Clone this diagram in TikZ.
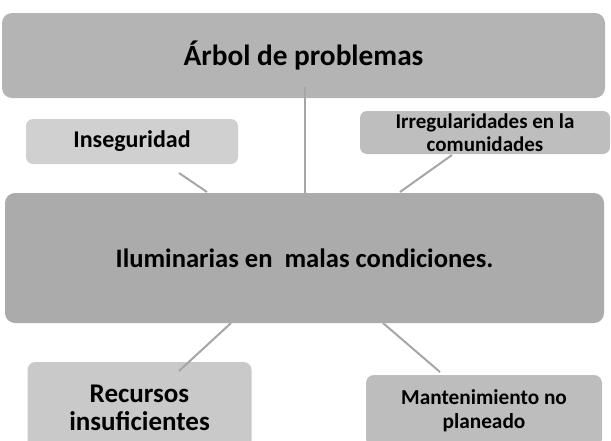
\documentclass[tikz,border=0pt]{standalone}
\usepackage{fontspec}
\setmainfont{Carlito}
\begin{document}
\begin{tikzpicture}[x=1pt,y=-1pt,
  box/.style={draw=none,rounded corners=10pt,inner sep=0pt,align=center,font=\bfseries},
  link/.style={draw=linkgray,line width=2pt}]
\definecolor{topgray}{HTML}{B4B4B4}
\definecolor{maingray}{HTML}{ABABAB}
\definecolor{lightgray}{HTML}{D0D0D0}
\definecolor{midgray}{HTML}{BEBEBE}
\definecolor{recgray}{HTML}{C9C9C9}
\definecolor{mangray}{HTML}{BDBDBD}
\definecolor{linkgray}{HTML}{A6A6A6}
\useasboundingbox (0,0) rectangle (611,440);
\clip (0,0) rectangle (611,440);
% boxes
\node[box,fill=topgray,minimum width=603pt,minimum height=85pt,font=\bfseries\fontsize{29.3}{34}\selectfont] (top) at (303.5,55.5) {Árbol de problemas};
\node[box,fill=maingray,minimum width=599pt,minimum height=130pt,font=\bfseries\fontsize{26.6}{30}\selectfont] (main) at (304.5,258) {Iluminarias en\ \ malas condiciones.};
\node[box,fill=lightgray,minimum width=212pt,minimum height=45pt,rounded corners=7pt,font=\bfseries\fontsize{24}{28}\selectfont] (ins) at (132,141.5) {Inseguridad};
\node[box,fill=midgray,minimum width=250pt,minimum height=43pt,rounded corners=7pt,font=\bfseries\fontsize{21}{23}\selectfont] (irr) at (485,132.5) {Irregularidades en la\\comunidades};
\node[box,fill=recgray,minimum width=224pt,minimum height=92pt,rounded corners=8pt,font=\bfseries\fontsize{27}{28}\selectfont] (rec) at (139.5,408) {Recursos\\insuficientes};
\node[box,fill=mangray,minimum width=236pt,minimum height=72pt,rounded corners=8pt,font=\bfseries\fontsize{21.3}{24}\selectfont] (man) at (484,411) {Mantenimiento no\\planeado};
% connector end points
\coordinate (tA) at (305,87);
\coordinate (tB) at (305,193);
\coordinate (iA) at (179,173);
\coordinate (iB) at (207,192);
\coordinate (rA) at (452,155);
\coordinate (rB) at (400,192);
\coordinate (lA) at (231,323);
\coordinate (lB) at (179,371);
\coordinate (mA) at (383,323);
\coordinate (mB) at (440,372);
\draw[link] (tA) -- (tB);
\draw[link] (iA) -- (iB);
\draw[link] (rA) -- (rB);
\draw[link] (lA) -- (lB);
\draw[link] (mA) -- (mB);
\end{tikzpicture}
\end{document}
